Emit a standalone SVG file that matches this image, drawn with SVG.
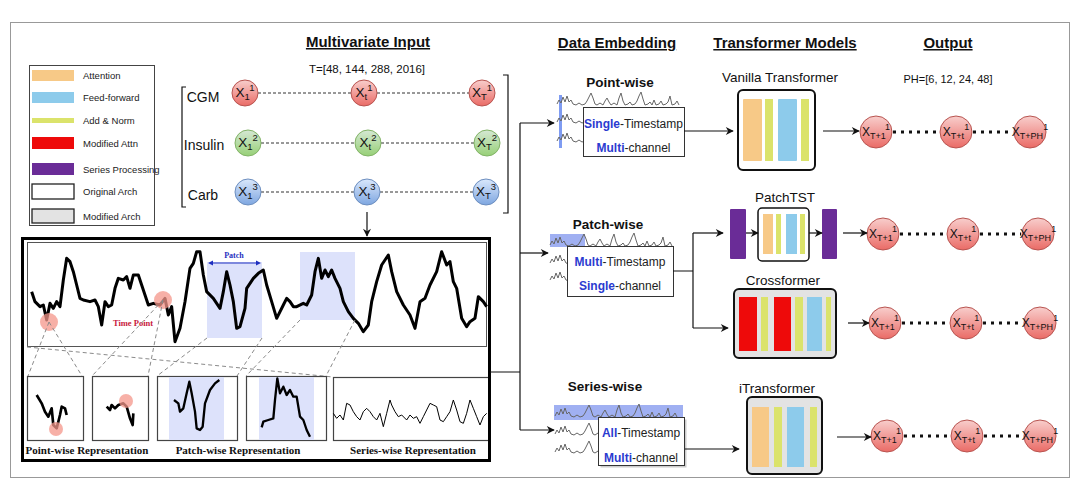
<svg xmlns="http://www.w3.org/2000/svg" width="1080" height="497" viewBox="0 0 1080 497">
<defs>
<style>
.s{font-family:"Liberation Sans",Arial,sans-serif;fill:#111}
.hdr{font-family:"Liberation Sans",Arial,sans-serif;font-size:15px;font-weight:bold;text-decoration:underline;fill:#111;text-anchor:middle}
.leg{font-family:"Liberation Sans",Arial,sans-serif;font-size:9.5px;fill:#222}
.ttl{font-family:"Liberation Sans",Arial,sans-serif;font-size:13.5px;fill:#111;text-anchor:middle}
.emb{font-family:"Liberation Sans",Arial,sans-serif;font-size:13.5px;font-weight:bold;fill:#111;text-anchor:middle}
.box{font-family:"Liberation Sans",Arial,sans-serif;font-size:12px;fill:#222;text-anchor:middle}
.bl{fill:#2b3bd0;font-weight:bold}
.cx{font-family:"Liberation Sans",Arial,sans-serif;font-size:13.5px;fill:#111;text-anchor:middle}
.ox{font-family:"Liberation Sans",Arial,sans-serif;font-size:12px;fill:#111;text-anchor:middle}
.sm{font-size:9.5px}
.om{font-size:9px}
.rep{font-family:"Liberation Serif","Times New Roman",serif;font-size:11px;font-weight:bold;fill:#111;text-anchor:middle}
.dash{stroke:#333;stroke-width:1;stroke-dasharray:3 2;fill:none}
.dot{stroke:#111;stroke-width:3;stroke-dasharray:3 5;fill:none}
.gd{stroke:#8a8a8a;stroke-width:1;stroke-dasharray:4 3;fill:none}
.con{stroke:#111;stroke-width:1.2;fill:none}
.arr{stroke:#111;stroke-width:1.2;fill:none;marker-end:url(#ah)}
.wave{stroke:#666;stroke-width:1;fill:none;stroke-linejoin:round}
.or{fill:#f7c987}.bu{fill:#8dcbeb}.yg{fill:#dbe36b}.rd{fill:#ee0a0a}.pu{fill:#6a2c97}
.cr{stroke:#b85450;fill:url(#gr)}.cg{stroke:#82b366;fill:url(#gg)}.cb{stroke:#6c8ebf;fill:url(#gb)}
</style>
<marker id="ah" viewBox="0 0 10 10" refX="9" refY="5" markerWidth="9" markerHeight="8" markerUnits="userSpaceOnUse" orient="auto"><path d="M0 0 L10 5 L0 10 L3 5 Z" fill="#111"/></marker>
<linearGradient id="gr" x1="0" y1="0" x2="0" y2="1"><stop offset="0" stop-color="#f8cecc"/><stop offset="1" stop-color="#ea6b66"/></linearGradient>
<linearGradient id="gg" x1="0" y1="0" x2="0" y2="1"><stop offset="0" stop-color="#d5e8d4"/><stop offset="1" stop-color="#97d077"/></linearGradient>
<linearGradient id="gb" x1="0" y1="0" x2="0" y2="1"><stop offset="0" stop-color="#dae8fc"/><stop offset="1" stop-color="#7ea6e0"/></linearGradient>
<path id="wv" d="M0 0 L2 -4 L4 -1 L6 -7 L8 -2 L10 -8 L12 -2 L14 -4 L16 0 L19 1 L22 -1 L25 1 L28 0 L30 -3 L32 -7 L34 -11 L36 -6 L38 0 L40 1 L43 -1 L46 1 L48 -3 L50 -6 L52 -2 L54 1 L57 -1 L60 1 L62 -6 L64 -11 L66 -3 L68 1 L71 0 L73 -2 L75 1 L78 0 L80 -3 L82 -8 L84 -12 L86 -5 L88 1 L91 0 L93 -2 L95 1 L97 -4 L99 1 L102 0 L104 -3 L106 1 L109 0 L111 -2 L113 -8 L115 1 L118 0 L120 -3 L122 1"/>
</defs>
<rect width="1080" height="497" fill="#fff"/>
<rect x="10.5" y="22.5" width="1059" height="455" fill="none" stroke="#999" stroke-width="1"/>

<!-- Headers -->
<text class="hdr" x="368" y="47">Multivariate Input</text>
<text class="hdr" x="617" y="48">Data Embedding</text>
<text class="hdr" x="785" y="48">Transformer Models</text>
<text class="hdr" x="948" y="48">Output</text>

<!-- Legend -->
<g id="legend">
<rect x="29.5" y="65.5" width="125" height="160" fill="#fff" stroke="#444" stroke-width="1"/>
<rect class="or" x="32" y="70" width="42" height="11"/><text class="leg" x="83" y="79">Attention</text>
<rect class="bu" x="32" y="92" width="42" height="11"/><text class="leg" x="83" y="101">Feed-forward</text>
<rect class="yg" x="32" y="118" width="42" height="5"/><text class="leg" x="83" y="124">Add &amp; Norm</text>
<rect class="rd" x="32" y="137" width="42" height="12"/><text class="leg" x="83" y="147">Modified Attn</text>
<rect class="pu" x="32" y="163" width="42" height="12"/><text class="leg" x="83" y="172.5">Series Processing</text>
<rect x="32" y="184" width="42" height="15" fill="#fff" stroke="#222" stroke-width="1.3"/><text class="leg" x="83" y="195">Original Arch</text>
<rect x="32" y="209" width="42" height="14" fill="#e3e3e3" stroke="#222" stroke-width="1.3"/><text class="leg" x="83" y="219.5">Modified Arch</text>
</g>

<!-- Multivariate input -->
<g id="input">
<text class="s" x="367" y="73" font-size="11.5" text-anchor="middle">T=[48, 144, 288, 2016]</text>
<path d="M186 87 H182 V207 H186" class="con" stroke="#333"/>
<path d="M503 75 H508 V213 H503" class="con" stroke="#333"/>
<text class="s" x="203" y="102" font-size="14" text-anchor="middle">CGM</text>
<text class="s" x="204" y="150" font-size="14" text-anchor="middle">Insulin</text>
<text class="s" x="203" y="200" font-size="14" text-anchor="middle">Carb</text>
<line class="dash" x1="258" y1="93" x2="351" y2="93"/><line class="dash" x1="377" y1="93" x2="469" y2="93"/>
<line class="dash" x1="261" y1="143" x2="355" y2="143"/><line class="dash" x1="381" y1="143" x2="474" y2="143"/>
<line class="dash" x1="261" y1="192" x2="354" y2="192"/><line class="dash" x1="380" y1="192" x2="473" y2="192"/>
<g id="cgm1"><circle class="cr" cx="245" cy="93" r="13"/><text class="cx" x="245" y="97">X<tspan class="sm" dy="3">1</tspan><tspan class="sm" dy="-9">1</tspan></text></g>
<g id="cgmt"><circle class="cr" cx="364" cy="93" r="13"/><text class="cx" x="364" y="97">X<tspan class="sm" dy="3">t</tspan><tspan class="sm" dy="-9">1</tspan></text></g>
<g id="cgmT"><circle class="cr" cx="482" cy="93" r="13"/><text class="cx" x="482" y="97">X<tspan class="sm" dy="3">T</tspan><tspan class="sm" dy="-9">1</tspan></text></g>
<g id="ins1"><circle class="cg" cx="248" cy="143" r="13"/><text class="cx" x="248" y="147">X<tspan class="sm" dy="3">1</tspan><tspan class="sm" dy="-9">2</tspan></text></g>
<g id="inst"><circle class="cg" cx="368" cy="143" r="13"/><text class="cx" x="368" y="147">X<tspan class="sm" dy="3">t</tspan><tspan class="sm" dy="-9">2</tspan></text></g>
<g id="insT"><circle class="cg" cx="487" cy="143" r="13"/><text class="cx" x="487" y="147">X<tspan class="sm" dy="3">T</tspan><tspan class="sm" dy="-9">2</tspan></text></g>
<g id="carb1"><circle class="cb" cx="248" cy="192" r="13"/><text class="cx" x="248" y="196">X<tspan class="sm" dy="3">1</tspan><tspan class="sm" dy="-9">3</tspan></text></g>
<g id="carbt"><circle class="cb" cx="367" cy="192" r="13"/><text class="cx" x="367" y="196">X<tspan class="sm" dy="3">t</tspan><tspan class="sm" dy="-9">3</tspan></text></g>
<g id="carbT"><circle class="cb" cx="486" cy="192" r="13"/><text class="cx" x="486" y="196">X<tspan class="sm" dy="3">T</tspan><tspan class="sm" dy="-9">3</tspan></text></g>
</g>

<!-- Representation panel -->
<g id="panel">
<rect x="27.5" y="242.5" width="459" height="104" fill="#fff" stroke="#555" stroke-width="1"/>
<rect x="207" y="262" width="55" height="76" fill="#dde2fb"/>
<rect x="300" y="252" width="55" height="68" fill="#dde2fb"/>
<g transform="translate(20 235) scale(0.33333)">
<path fill="none" stroke="#000" stroke-width="9" stroke-linejoin="round" d="M35 170 L45 200 L60 215 L70 210 L80 255 L90 205 L100 220 L110 200 L120 215 L130 135 L140 70 L150 80 L160 110 L170 150 L180 190 L190 195 L210 200 L225 195 L235 215 L245 270 L255 200 L265 215 L275 210 L285 160 L295 130 L310 135 L320 125 L330 160 L340 120 L355 120 L365 150 L375 180 L385 210 L400 205 L420 210 L435 190 L445 240 L455 215 L465 320 L480 280 L495 200 L510 100 L520 85 L530 50 L540 50 L550 120 L560 170 L580 190 L600 220 L610 170 L620 110 L630 150 L640 200 L650 280 L660 275 L675 220 L680 160 L700 130 L715 115 L730 105 L740 150 L755 200 L770 250 L790 210 L800 190 L810 200 L820 215 L830 215 L850 205 L860 210 L875 180 L885 110 L895 70 L905 130 L915 105 L925 125 L935 105 L945 130 L960 160 L970 200 L985 230 L1000 250 L1015 265 L1030 290 L1045 270 L1055 200 L1070 140 L1085 90 L1105 60 L1115 110 L1130 170 L1150 210 L1170 240 L1185 280 L1200 200 L1215 190 L1230 150 L1250 110 L1265 50 L1280 90 L1290 80 L1300 140 L1310 160 L1325 250 L1340 275 L1350 260 L1365 250 L1375 185 L1390 200 L1400 215"/>
</g>
<circle cx="49" cy="322" r="9" fill="#f4958a" opacity="0.75"/>
<circle cx="163" cy="300" r="9" fill="#f4958a" opacity="0.75"/>
<text x="133" y="326" font-family="Liberation Serif,serif" font-size="8.5" font-weight="bold" fill="#c8193c" text-anchor="middle">Time Point</text>
<line x1="210" y1="263" x2="259" y2="263" stroke="#1f2fc0" stroke-width="1.2"/>
<path d="M208 263 l5 -2.5 v5 z M261 263 l-5 -2.5 v5 z" fill="#1f2fc0"/>
<text x="234" y="258" font-family="Liberation Serif,serif" font-size="8" font-weight="bold" fill="#1f2fc0" text-anchor="middle">Patch</text>
<line class="gd" x1="49" y1="322" x2="28" y2="376"/>
<line class="gd" x1="49" y1="322" x2="82" y2="376"/>
<line class="gd" x1="163" y1="300" x2="92" y2="376"/>
<line class="gd" x1="163" y1="300" x2="148" y2="376"/>
<line class="gd" x1="27" y1="347" x2="333" y2="377"/>
<line class="gd" x1="207" y1="338" x2="157" y2="376"/>
<line class="gd" x1="262" y1="338" x2="237" y2="376"/>
<line class="gd" x1="300" y1="320" x2="246" y2="376"/>
<line class="gd" x1="355" y1="320" x2="326" y2="376"/>
<rect x="27.5" y="376.5" width="56" height="64" fill="#fff" stroke="#444" stroke-width="1.2"/>
<rect x="92.5" y="376.5" width="56" height="64" fill="#fff" stroke="#444" stroke-width="1.2"/>
<rect x="157.5" y="376.5" width="80" height="64" fill="#fff" stroke="#444" stroke-width="1.2"/>
<rect x="246.5" y="376.5" width="80" height="64" fill="#fff" stroke="#444" stroke-width="1.2"/>
<rect x="333.5" y="377.5" width="156" height="63" fill="#fff" stroke="#444" stroke-width="1.2"/>
<rect x="169" y="377" width="55" height="63" fill="#dde2fb"/>
<rect x="259" y="377" width="55" height="63" fill="#dde2fb"/>
<g transform="translate(20 350) scale(0.33333)" fill="none" stroke="#000" stroke-linejoin="round">
<path stroke-width="8" d="M50 135 L65 160 L75 185 L85 200 L95 175 L100 225 L110 235 L120 195 L125 170 L135 175 L140 195"/>
<path stroke-width="8" d="M260 170 L270 180 L275 165 L285 175 L295 165 L310 160 L320 170 L330 205 L338 225 L340 190"/>
<path stroke-width="7" d="M462 150 L475 160 L480 185 L490 175 L500 130 L508 95 L515 130 L525 185 L530 235 L540 240 L548 230 L555 160 L570 120 L585 100 L598 90"/>
<path stroke-width="7" d="M725 232 L730 215 L745 210 L760 205 L765 150 L772 85 L780 130 L790 110 L800 135 L810 120 L820 140 L830 140 L840 200 L850 210 L860 240 L870 260"/>
<path stroke-width="3" d="M940 190 L950 205 L960 195 L970 210 L980 160 L990 165 L1000 185 L1010 200 L1020 210 L1030 185 L1040 175 L1050 185 L1060 200 L1070 210 L1080 190 L1090 230 L1100 190 L1110 150 L1115 165 L1125 185 L1135 200 L1145 195 L1160 210 L1170 195 L1180 205 L1190 200 L1200 220 L1210 200 L1220 180 L1230 160 L1240 165 L1250 170 L1260 210 L1270 215 L1280 200 L1290 185 L1300 150 L1310 180 L1320 215 L1330 220 L1340 190 L1350 150 L1360 175 L1370 200 L1380 225 L1390 200 L1400 190"/>
</g>
<circle cx="56" cy="429" r="7" fill="#f4958a" opacity="0.75"/>
<circle cx="126" cy="401" r="7" fill="#f4958a" opacity="0.75"/>
<text class="rep" x="87" y="454">Point-wise Representation</text>
<text class="rep" x="238" y="454">Patch-wise Representation</text>
<text class="rep" x="413" y="454">Series-wise Representation</text>
<rect x="22.5" y="238.5" width="467" height="222" fill="none" stroke="#000" stroke-width="3"/>
</g>

<!-- Embeddings -->
<g id="pointwise">
<text class="emb" x="620" y="87">Point-wise</text>
<rect x="559" y="95" width="3" height="53" fill="#7f9cf2"/>
<use href="#wv" x="557" y="104" class="wave"/>
<use href="#wv" x="557" y="122" class="wave"/>
<use href="#wv" x="557" y="141" class="wave"/>
<rect x="583.5" y="107.5" width="101" height="49" fill="#fff" stroke="#333" stroke-width="1"/>
<text class="box" x="633.5" y="128"><tspan class="bl">Single</tspan>-Timestamp</text>
<text class="box" x="633.5" y="152"><tspan class="bl">Multi</tspan>-channel</text>
</g>
<g id="patchwise">
<text class="emb" x="608" y="229">Patch-wise</text>
<rect x="550" y="234" width="35" height="13" fill="#8fa2f0" opacity="0.85"/>
<use href="#wv" x="550" y="245" class="wave"/>
<use href="#wv" x="550" y="263" class="wave"/>
<use href="#wv" x="550" y="280" class="wave"/>
<rect x="567.5" y="246.5" width="106" height="50" fill="#fff" stroke="#333" stroke-width="1"/>
<text class="box" x="620" y="266"><tspan class="bl">Multi</tspan>-Timestamp</text>
<text class="box" x="620" y="290"><tspan class="bl">Single</tspan>-channel</text>
</g>
<g id="serieswise">
<text class="emb" x="605" y="391">Series-wise</text>
<rect x="554" y="405" width="129" height="15" fill="#8fa2f0" opacity="0.85"/>
<use href="#wv" x="555" y="416" class="wave"/>
<use href="#wv" x="555" y="434" class="wave"/>
<use href="#wv" x="555" y="452" class="wave"/>
<rect x="600.5" y="419.5" width="86" height="48" fill="#999" opacity="0.5"/>
<rect x="598.5" y="417.5" width="86" height="48" fill="#fff" stroke="#333" stroke-width="1"/>
<text class="box" x="641" y="437"><tspan class="bl">All</tspan>-Timestamp</text>
<text class="box" x="641" y="462"><tspan class="bl">Multi</tspan>-channel</text>
</g>

<!-- Models -->
<g id="vanilla">
<text class="ttl" x="780" y="82">Vanilla Transformer</text>
<rect x="738" y="90" width="77" height="80" rx="5" fill="#fff" stroke="#111" stroke-width="2"/>
<rect class="or" x="743" y="99" width="19" height="62" rx="1"/>
<rect class="yg" x="765" y="99" width="8" height="62"/>
<rect class="bu" x="778" y="99" width="19" height="62" rx="1"/>
<rect class="yg" x="801" y="99" width="8" height="62"/>
</g>
<g id="patchtst">
<text class="ttl" x="785" y="202">PatchTST</text>
<rect class="pu" x="730" y="209" width="16" height="50" rx="1"/>
<rect x="758" y="208" width="51" height="53" rx="4" fill="#fff" stroke="#111" stroke-width="1.5"/>
<rect class="or" x="763" y="214" width="10" height="40"/>
<rect class="yg" x="776" y="214" width="5" height="40"/>
<rect class="bu" x="786" y="214" width="11" height="40"/>
<rect class="yg" x="800" y="214" width="5" height="40"/>
<rect class="pu" x="822" y="209" width="15" height="50" rx="1"/>
</g>
<g id="crossformer">
<text class="ttl" x="783" y="285">Crossformer</text>
<rect x="734" y="289" width="102" height="69" rx="5" fill="#e3e3e3" stroke="#111" stroke-width="2"/>
<rect class="rd" x="739" y="297" width="18" height="54"/>
<rect class="yg" x="761" y="297" width="7" height="54"/>
<rect class="rd" x="774" y="297" width="17" height="54"/>
<rect class="yg" x="795" y="297" width="8" height="54"/>
<rect class="bu" x="807" y="297" width="15" height="54"/>
<rect class="yg" x="826" y="297" width="5" height="54"/>
</g>
<g id="itransformer">
<text class="ttl" x="777" y="393">iTransformer</text>
<rect x="747" y="397" width="75" height="77" rx="5" fill="#e3e3e3" stroke="#111" stroke-width="2"/>
<rect class="or" x="752" y="407" width="17" height="60"/>
<rect class="yg" x="774" y="407" width="8" height="60"/>
<rect class="bu" x="787" y="407" width="17" height="60"/>
<rect class="yg" x="810" y="407" width="7" height="60"/>
</g>

<!-- Output -->
<text class="s" x="948" y="83" font-size="11" text-anchor="middle">PH=[6, 12, 24, 48]</text>
<g id="out-dots">
<line class="dot" x1="893" y1="132" x2="939" y2="132"/><line class="dot" x1="973" y1="132" x2="1013" y2="132"/>
<line class="dot" x1="900" y1="234" x2="946" y2="234"/><line class="dot" x1="980" y1="234" x2="1021" y2="234"/>
<line class="dot" x1="902" y1="323" x2="949" y2="323"/><line class="dot" x1="983" y1="323" x2="1023" y2="323"/>
<line class="dot" x1="904" y1="436" x2="950" y2="436"/><line class="dot" x1="984" y1="436" x2="1023" y2="436"/>
</g>
<g id="out1a"><circle class="cr" cx="876" cy="132" r="16"/><text class="ox" x="876" y="136">X<tspan class="om" dy="3">T+1</tspan><tspan class="om" dy="-9">1</tspan></text></g>
<g id="out1b"><circle class="cr" cx="956" cy="132" r="16"/><text class="ox" x="956" y="136">X<tspan class="om" dy="3">T+t</tspan><tspan class="om" dy="-9">1</tspan></text></g>
<g id="out1c"><circle class="cr" cx="1030" cy="132" r="16"/><text class="ox" x="1030" y="136">X<tspan class="om" dy="3">T+PH</tspan><tspan class="om" dy="-9">1</tspan></text></g>
<g id="out2a"><circle class="cr" cx="883" cy="234" r="16"/><text class="ox" x="883" y="238">X<tspan class="om" dy="3">T+1</tspan><tspan class="om" dy="-9">1</tspan></text></g>
<g id="out2b"><circle class="cr" cx="963" cy="234" r="16"/><text class="ox" x="963" y="238">X<tspan class="om" dy="3">T+t</tspan><tspan class="om" dy="-9">1</tspan></text></g>
<g id="out2c"><circle class="cr" cx="1038" cy="234" r="16"/><text class="ox" x="1038" y="238">X<tspan class="om" dy="3">T+PH</tspan><tspan class="om" dy="-9">1</tspan></text></g>
<g id="out3a"><circle class="cr" cx="885" cy="323" r="16"/><text class="ox" x="885" y="327">X<tspan class="om" dy="3">T+1</tspan><tspan class="om" dy="-9">1</tspan></text></g>
<g id="out3b"><circle class="cr" cx="966" cy="323" r="16"/><text class="ox" x="966" y="327">X<tspan class="om" dy="3">T+t</tspan><tspan class="om" dy="-9">1</tspan></text></g>
<g id="out3c"><circle class="cr" cx="1040" cy="323" r="16"/><text class="ox" x="1040" y="327">X<tspan class="om" dy="3">T+PH</tspan><tspan class="om" dy="-9">1</tspan></text></g>
<g id="out4a"><circle class="cr" cx="887" cy="436" r="16"/><text class="ox" x="887" y="440">X<tspan class="om" dy="3">T+1</tspan><tspan class="om" dy="-9">1</tspan></text></g>
<g id="out4b"><circle class="cr" cx="967" cy="436" r="16"/><text class="ox" x="967" y="440">X<tspan class="om" dy="3">T+t</tspan><tspan class="om" dy="-9">1</tspan></text></g>
<g id="out4c"><circle class="cr" cx="1040" cy="436" r="16"/><text class="ox" x="1040" y="440">X<tspan class="om" dy="3">T+PH</tspan><tspan class="om" dy="-9">1</tspan></text></g>

<!-- Connectors -->
<g id="connectors">
<line class="arr" x1="367" y1="212" x2="367" y2="236"/>
<path class="con" d="M490 372 H520 M520 123 V430"/>
<line class="arr" x1="520" y1="123" x2="554" y2="123"/>
<line class="arr" x1="520" y1="253" x2="548" y2="253"/>
<line class="arr" x1="520" y1="430" x2="554" y2="430"/>
<line class="arr" x1="684" y1="131" x2="733" y2="131"/>
<line class="arr" x1="823" y1="131" x2="859" y2="131"/>
<path class="con" d="M673 271 H693 M693 233 V328"/>
<line class="arr" x1="693" y1="233" x2="723" y2="233"/>
<line class="arr" x1="693" y1="328" x2="728" y2="328"/>
<line class="arr" x1="746" y1="233" x2="758" y2="233"/>
<line class="arr" x1="809" y1="233" x2="822" y2="233"/>
<line class="arr" x1="843" y1="233" x2="867" y2="233"/>
<line class="arr" x1="848" y1="323" x2="869" y2="323"/>
<line class="arr" x1="685" y1="449" x2="739" y2="449"/>
<line class="arr" x1="837" y1="437" x2="871" y2="437"/>
</g>
</svg>
